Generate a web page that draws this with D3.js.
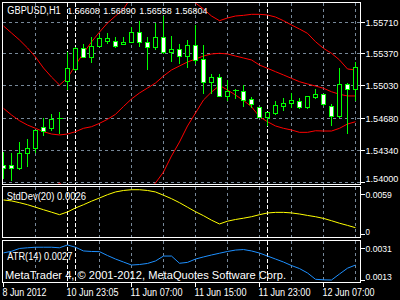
<!DOCTYPE html>
<html><head><meta charset="utf-8">
<script src="https://cdn.jsdelivr.net/npm/d3@7"></script>
<style>
html,body{margin:0;padding:0;background:#000;overflow:hidden}
svg{display:block}
text{font-family:"Liberation Sans",Arial,sans-serif;fill:#fff}
</style></head><body>
<svg id="c" width="400" height="300"></svg>
<script>
// ---------------- DATA ----------------
const symbolName = "GBPUSD,H1";
const quoteValues = ["1.56608", "1.56890", "1.56558", "1.56804"];
const stdDevName = "StdDev(20) 0.0026";
const atrName = "ATR(14) 0.0027";
const copyright = "MetaTrader 4, © 2001-2012, MetaQuotes Software Corp.";

const opens = [1.54185,1.54185,1.54156,1.54309,1.54363,1.54587,1.54582,1.54683,1.55084,1.55209,
  1.55429,1.5534,1.55457,1.5551,1.5551,1.55472,1.555,1.556,1.55493,1.5544,
  1.55547,1.55393,1.55419,1.5535,1.55465,1.55312,1.55073,1.5512,1.54924,1.54985,
  1.54974,1.54885,1.548,1.547,1.54742,1.54817,1.54843,1.5487,1.54806,1.54913,
  1.54939,1.54817,1.5471,1.55045,1.54992];
const highs = [1.54326,1.54309,1.54427,1.54462,1.54558,1.54683,1.54725,1.54747,1.55393,1.5544,
  1.55475,1.55547,1.55571,1.55589,1.55547,1.55547,1.5566,1.55721,1.55547,1.55702,
  1.55774,1.55561,1.55475,1.55518,1.55678,1.55465,1.55155,1.55155,1.55091,1.54992,
  1.55038,1.54913,1.548,1.54747,1.54867,1.54896,1.54949,1.54896,1.54921,1.54992,
  1.54939,1.54835,1.55216,1.55056,1.5528];
const lows = [1.54043,1.54025,1.54142,1.54177,1.54326,1.54505,1.54558,1.54523,1.54992,1.55198,
  1.55333,1.55286,1.55454,1.55483,1.55446,1.55472,1.555,1.55457,1.55209,1.55422,
  1.55376,1.55294,1.55269,1.55233,1.55269,1.54956,1.54956,1.54924,1.54878,1.54896,
  1.54814,1.54806,1.54693,1.54611,1.54729,1.54771,1.54806,1.54789,1.54789,1.54902,
  1.54825,1.54611,1.547,1.54529,1.54878];
const closes = [1.54149,1.54149,1.54309,1.54363,1.54558,1.5455,1.54675,1.54683,1.55216,1.55429,
  1.5534,1.55454,1.55536,1.55536,1.55457,1.555,1.556,1.55493,1.5544,1.55547,
  1.55393,1.55419,1.5535,1.55465,1.55305,1.55073,1.5512,1.54924,1.54974,1.54985,
  1.54878,1.54832,1.547,1.54747,1.54825,1.54843,1.54878,1.54806,1.54921,1.54939,
  1.54832,1.5471,1.55045,1.54992,1.55227];

const bbUpper = [1.55667,1.55593,1.55518,1.55433,1.55337,1.55219,1.55123,1.55038,1.55113,1.55251,
  1.55379,1.55497,1.55603,1.55699,1.55774,1.55849,1.55977,1.56051,1.56105,1.56126,
  1.56158,1.56115,1.56051,1.55966,1.55913,1.55849,1.55774,1.55724,1.55753,1.55774,
  1.55781,1.55792,1.55792,1.55785,1.55763,1.55724,1.55678,1.55635,1.55589,1.555,
  1.55429,1.55376,1.55305,1.55209,1.55198];
const bbMiddle = [1.54789,1.54718,1.54657,1.54611,1.54576,1.5454,1.54515,1.54505,1.54515,1.5454,
  1.54576,1.54593,1.54629,1.54672,1.54725,1.54809,1.54889,1.54953,1.55006,1.55059,
  1.55134,1.55198,1.55241,1.55283,1.55315,1.55347,1.55369,1.55376,1.55369,1.55347,
  1.55326,1.55305,1.55251,1.55216,1.5518,1.55145,1.55109,1.55073,1.55049,1.55027,
  1.55003,1.54966,1.54939,1.54921,1.54921];
const bbLower = [1.53911,1.53843,1.53801,1.5379,1.53811,1.53865,1.53907,1.53993,1.53918,1.53833,
  1.53769,1.53694,1.53651,1.53641,1.53673,1.53769,1.53801,1.53854,1.53907,1.53993,
  1.5411,1.54281,1.5443,1.54601,1.54739,1.54878,1.54963,1.55033,1.54985,1.54931,
  1.54873,1.54806,1.547,1.54646,1.54601,1.54576,1.54558,1.54533,1.54533,1.5455,
  1.54547,1.54547,1.54576,1.54622,1.54646];

const stdDev = [0.00502,0.00488,0.00462,0.00432,0.00395,0.00358,0.00322,0.00285,0.00325,0.00384,
  0.00432,0.00484,0.00531,0.0058,0.0062,0.00642,0.00653,0.00653,0.00642,0.0062,
  0.00572,0.00521,0.00462,0.00395,0.00329,0.0027,0.00204,0.00148,0.00189,0.00214,
  0.00233,0.00255,0.00285,0.0031,0.00319,0.00319,0.00311,0.00295,0.00274,0.00255,
  0.0023,0.00196,0.00159,0.00127,0.00093];
const atr = [0.00284,0.00293,0.00309,0.00313,0.00316,0.00316,0.00316,0.00313,0.00329,0.00316,
  0.00295,0.00292,0.00291,0.00269,0.00249,0.00232,0.00215,0.00218,0.00224,0.00238,
  0.00266,0.00266,0.00225,0.0023,0.00249,0.00261,0.00272,0.00282,0.00292,0.003,
  0.00303,0.00295,0.00283,0.00266,0.00249,0.00232,0.00212,0.00195,0.0017,0.00134,
  0.00131,0.0013,0.00164,0.00197,0.00215];

const priceTicks = [1.54000, 1.54340, 1.54680, 1.55030, 1.55370, 1.55710];
const stdTicks = [0.0059, 0];
const atrTicks = [0.0031, 0.0013];
const timeLabelIndex = [0, 8, 16, 24, 32, 40];
const timeLabels = ["8 Jun 2012", "10 Jun 23:05", "11 Jun 07:00", "11 Jun 15:00", "11 Jun 23:00", "12 Jun 07:00"];
const daySeparators = [8, 9, 33];
const gridIndex = [4, 8, 12, 16, 20, 24, 28, 32, 36, 40, 44];

// ---------------- LAYOUT ----------------
const svg = d3.select("#c");
svg.append("rect").attr("width", 400).attr("height", 300).attr("fill", "#000");
const LEFT = 2.5, RIGHT = 360.5;
const panels = {
  main: {top: 2.5, bottom: 184.5},
  sd: {top: 186.5, bottom: 237.5},
  atr: {top: 240.5, bottom: 282.5}
};
const GRID = "#778899", CANDLE = "#00ff00";

const n = closes.length;
const x = d3.scaleLinear().domain([0, n - 1]).range([3.5, 355.5]);
const yP = d3.scaleLinear().domain([1.54000, 1.55710]).range([182.3, 22]);
const yS = d3.scaleLinear().domain([0, 0.0059]).range([234, 194]);
const yA = d3.scaleLinear().domain([0.0013, 0.0031]).range([280, 248.3]);
const px = v => Math.round(v - 0.5) + 0.5;

const defs = svg.append("defs");
Object.entries(panels).forEach(([k, p]) => {
  defs.append("clipPath").attr("id", "clip-" + k).append("rect")
    .attr("x", LEFT + 0.5).attr("y", p.top + 0.5)
    .attr("width", RIGHT - LEFT - 1).attr("height", p.bottom - p.top - 1);
});

function panelGroup(k) {
  return svg.append("g").attr("clip-path", `url(#clip-${k})`);
}

// grid + separators per panel
Object.entries(panels).forEach(([k, p]) => {
  const g = panelGroup(k);
  g.selectAll("line.v").data(gridIndex).join("line")
    .attr("x1", i => x(i)).attr("x2", i => x(i))
    .attr("y1", p.top).attr("y2", p.bottom)
    .attr("stroke", GRID).attr("stroke-dasharray", "3,3").attr("shape-rendering", "crispEdges");
  if (k === "main") {
    g.selectAll("line.h").data(priceTicks).join("line")
      .attr("x1", LEFT).attr("x2", RIGHT)
      .attr("y1", d => px(yP(d))).attr("y2", d => px(yP(d)))
      .attr("stroke", GRID).attr("stroke-dasharray", "3,3").attr("shape-rendering", "crispEdges");
  }
  g.selectAll("line.s").data(daySeparators).join("line")
    .attr("x1", i => x(i)).attr("x2", i => x(i))
    .attr("y1", p.top).attr("y2", p.bottom)
    .attr("stroke", "#fff").attr("stroke-dasharray", "4,2").attr("shape-rendering", "crispEdges");
});

// main panel: bollinger bands + candles
const gm = panelGroup("main");
const lineP = d3.line().x((d, i) => x(i)).y(d => yP(d));
[bbUpper, bbMiddle, bbLower].forEach(arr => {
  gm.append("path").datum(arr).attr("d", lineP)
    .attr("fill", "none").attr("stroke", "#ff0000").attr("stroke-width", 1);
});

const idx = d3.range(n);
gm.selectAll("line.wick").data(idx).join("line")
  .attr("x1", i => x(i)).attr("x2", i => x(i))
  .attr("y1", i => Math.round(yP(highs[i]))).attr("y2", i => Math.round(yP(lows[i])) + 1)
  .attr("stroke", CANDLE).attr("shape-rendering", "crispEdges");
idx.forEach(i => {
  const yo = Math.round(yP(opens[i])), yc = Math.round(yP(closes[i]));
  const top = Math.min(yo, yc), bot = Math.max(yo, yc);
  if (bot - top < 1) {
    gm.append("line").attr("x1", x(i) - 3).attr("x2", x(i) + 3)
      .attr("y1", top + 0.5).attr("y2", top + 0.5)
      .attr("stroke", CANDLE).attr("shape-rendering", "crispEdges");
  } else {
    gm.append("rect").attr("x", x(i) - 2).attr("width", 4)
      .attr("y", top + 0.5).attr("height", bot - top)
      .attr("fill", closes[i] >= opens[i] ? "#000" : "#fff")
      .attr("stroke", CANDLE).attr("shape-rendering", "crispEdges");
  }
});

// StdDev panel
const gs = panelGroup("sd");
gs.append("path").datum(stdDev)
  .attr("d", d3.line().x((d, i) => x(i)).y(d => yS(d)))
  .attr("fill", "none").attr("stroke", "#ffff00").attr("stroke-width", 1);

// ATR panel
const ga = panelGroup("atr");
ga.append("path").datum(atr)
  .attr("d", d3.line().x((d, i) => x(i)).y(d => yA(d)))
  .attr("fill", "none").attr("stroke", "#1e90ff").attr("stroke-width", 1);

// panel borders
Object.values(panels).forEach(p => {
  svg.append("rect").attr("x", LEFT).attr("y", p.top)
    .attr("width", RIGHT - LEFT).attr("height", p.bottom - p.top)
    .attr("fill", "none").attr("stroke", "#fff").attr("shape-rendering", "crispEdges");
});

// text helper: compress to a target width
function txt(s, xx, yy, size, w) {
  const t = svg.append("text").attr("x", xx).attr("y", yy)
    .attr("font-size", size).text(s);
  if (w) t.attr("textLength", w).attr("lengthAdjust", "spacingAndGlyphs");
  return t;
}

// right axis labels
function rightAxis(ticks, scale, fmt, p, w) {
  ticks.forEach(v => {
    const yy = px(scale(v));
    svg.append("line").attr("x1", RIGHT).attr("x2", RIGHT + 4)
      .attr("y1", yy).attr("y2", yy).attr("stroke", "#fff").attr("shape-rendering", "crispEdges");
    const cy = Math.max(p.top + 6.5, Math.min(p.bottom - 6, yy));
    const s = fmt(v);
    txt(s, 365.5, cy + 3.6, "9.4px", s.length * w);
  });
}
rightAxis(priceTicks, yP, d3.format(".5f"), panels.main, 4.7);
rightAxis(stdTicks, yS, v => v === 0 ? "0" : d3.format(".4f")(v), panels.sd, 4.4);
rightAxis(atrTicks, yA, d3.format(".4f"), panels.atr, 4.4);

// bottom time labels
timeLabelIndex.forEach((i, j) => {
  svg.append("line").attr("x1", x(i)).attr("x2", x(i))
    .attr("y1", panels.atr.bottom).attr("y2", panels.atr.bottom + 4)
    .attr("stroke", "#fff").attr("shape-rendering", "crispEdges");
  const s = timeLabels[j];
  txt(s, x(i) - 1, 295.5, "10px", s.length === 10 ? 44 : 52);
});

// title and indicator labels
txt(symbolName, 7.3, 14.3, "10px", 53.4);
const qx = [67.3, 103.3, 139.3, 175];
quoteValues.forEach((q, j) => txt(q, qx[j], 14.3, "9.6px", 32.5));
txt(stdDevName, 6.7, 200.3, "10.5px", 79.3);
txt(atrName, 7.3, 260.3, "10.5px", 65);
txt(copyright, 5, 279.3, "11.5px", 281);
</script>
</body></html>
